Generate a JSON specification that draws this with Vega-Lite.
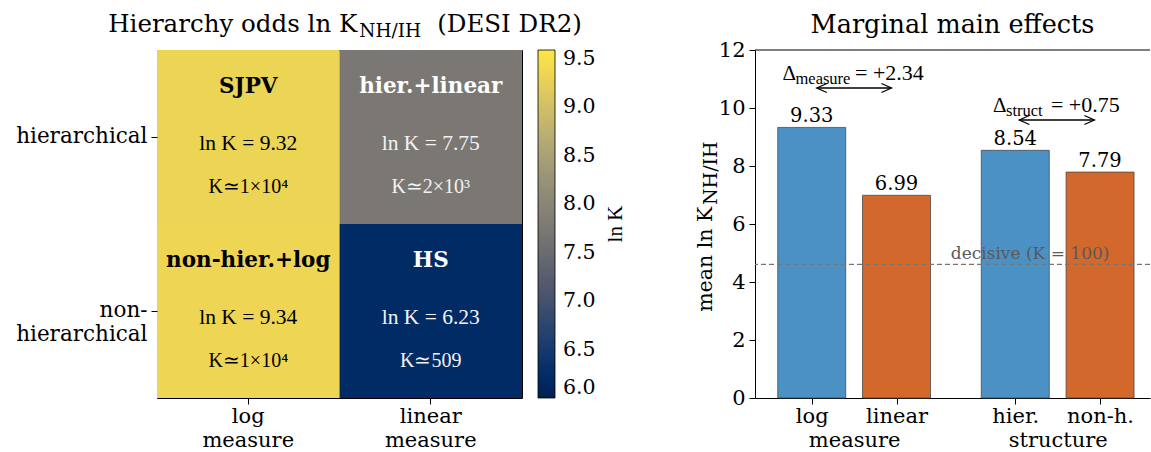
{
  "$schema": "https://vega.github.io/schema/vega-lite/v6.json",
  "background": "white",
  "padding": {"left": 15, "top": 11, "right": 0, "bottom": 0},
  "bounds": "flush",
  "spacing": 233,
  "config": {
    "font": "DejaVu Serif",
    "view": {"stroke": null},
    "axis": {"labelFont": "DejaVu Serif", "titleFont": "DejaVu Serif", "labelColor": "black", "tickColor": "black", "domainColor": "black", "grid": false},
    "legend": {"labelFont": "DejaVu Serif", "titleFont": "Liberation Serif", "labelColor": "black", "titleColor": "black"},
    "title": {"font": "DejaVu Serif", "fontWeight": "normal", "color": "black"},
    "text": {"color": "black"}
  },
  "datasets": {
    "cells": [
      {"structure": "hierarchical", "measure": "log", "lnK": 9.32, "name": "SJPV", "lnK_text": "ln K = 9.32", "K_text": "K≃1×10⁴"},
      {"structure": "hierarchical", "measure": "linear", "lnK": 7.75, "name": "hier.+linear", "lnK_text": "ln K = 7.75", "K_text": "K≃2×10³"},
      {"structure": "non-hierarchical", "measure": "log", "lnK": 9.34, "name": "non-hier.+log", "lnK_text": "ln K = 9.34", "K_text": "K≃1×10⁴"},
      {"structure": "non-hierarchical", "measure": "linear", "lnK": 6.23, "name": "HS", "lnK_text": "ln K = 6.23", "K_text": "K≃509"}
    ],
    "bars": [
      {"label": "log", "group": "measure", "slot": "first", "pos": 0, "mean_lnK": 9.33},
      {"label": "linear", "group": "measure", "slot": "second", "pos": 1, "mean_lnK": 6.99},
      {"label": "hier.", "group": "structure", "slot": "first", "pos": 2.4, "mean_lnK": 8.54},
      {"label": "non-h.", "group": "structure", "slot": "second", "pos": 3.4, "mean_lnK": 7.79}
    ],
    "annot": [
      {"factor": "measure", "sub": "measure", "val": "= +2.34", "xl": -0.345, "xr": 1.322, "ty": 10.966, "ax1": 0.06, "ax2": 0.94, "ay": 10.69},
      {"factor": "structure", "sub": "struct", "val": "= +0.75", "xl": 2.138, "xr": 3.632, "ty": 9.862, "ax1": 2.448, "ax2": 3.333, "ay": 9.586}
    ]
  },
  "hconcat": [
    {
      "width": 365,
      "height": 348,
      "view": {"stroke": "black", "strokeWidth": 1},
      "data": {"name": "cells"},
      "encoding": {
        "x": {"field": "measure", "type": "nominal", "sort": ["log", "linear"], "scale": {"paddingInner": 0, "paddingOuter": 0},
          "axis": {"title": null, "labelAngle": 0, "labelExpr": "[datum.label, 'measure']", "labelFontSize": 21, "labelLineHeight": 24.5, "tickSize": 6, "labelPadding": 1, "domain": false, "labelBaseline": "top"}},
        "y": {"field": "structure", "type": "nominal", "sort": ["hierarchical", "non-hierarchical"], "scale": {"paddingInner": 0, "paddingOuter": 0},
          "axis": {"title": null, "labelExpr": "datum.label == 'hierarchical' ? 'hierarchical' : ['non-', 'hierarchical']", "labelFontSize": 21.5, "labelLineHeight": 24, "tickSize": 6, "labelPadding": 4, "domain": false, "labelAlign": "right", "labelBaseline": "middle"}}
      },
      "layer": [
        {
          "mark": {"type": "rect"},
          "encoding": {
            "color": {"field": "lnK", "type": "quantitative",
              "scale": {"scheme": "cividis", "domain": [6.0, 9.59]},
              "legend": {"title": null, "orient": "right", "offset": 16, "padding": 0, "gradientLength": 348, "gradientThickness": 17,
                "gradientStrokeColor": "black", "gradientStrokeWidth": 0.8, "values": [6, 6.5, 7, 7.5, 8, 8.5, 9, 9.5], "format": ".1f",
                "labelFontSize": 20.5, "labelOffset": 8, "labelBaseline": "middle", "labelOverlap": false}}
          }
        },
        {
          "mark": {"type": "text", "fontWeight": "bold", "fontSize": 21.5, "dy": -50, "baseline": "middle"},
          "encoding": {"text": {"field": "name"}, "color": {"condition": {"test": "datum.lnK > 8.5", "value": "black"}, "value": "white"}}
        },
        {
          "mark": {"type": "text", "font": "Liberation Serif", "fontSize": 21.5, "dy": 7, "baseline": "middle"},
          "encoding": {"text": {"field": "lnK_text"}, "color": {"condition": {"test": "datum.lnK > 8.5", "value": "black"}, "value": "#f2f2f2"}}
        },
        {
          "mark": {"type": "text", "font": "Liberation Serif", "fontSize": 20, "dy": 50, "baseline": "middle"},
          "encoding": {"text": {"field": "K_text"}, "color": {"condition": {"test": "datum.lnK > 8.5", "value": "black"}, "value": "#f2f2f2"}}
        },
        {
          "data": {"values": [{"piece": "Hierarchy odds ln K"}]},
          "mark": {"type": "text", "fontSize": 24.5, "align": "right", "baseline": "alphabetic", "dx": 109, "dy": -105},
          "encoding": {"x": {"datum": "log"}, "y": {"datum": "hierarchical"}, "text": {"field": "piece"}}
        },
        {
          "data": {"values": [{"piece": "NH/IH"}]},
          "mark": {"type": "text", "fontSize": 18.5, "align": "left", "baseline": "alphabetic", "dx": 111, "dy": -100},
          "encoding": {"x": {"datum": "log"}, "y": {"datum": "hierarchical"}, "text": {"field": "piece"}}
        },
        {
          "data": {"values": [{"piece": "(DESI DR2)"}]},
          "mark": {"type": "text", "fontSize": 24.5, "align": "left", "baseline": "alphabetic", "dx": 189, "dy": -105},
          "encoding": {"x": {"datum": "log"}, "y": {"datum": "hierarchical"}, "text": {"field": "piece"}}
        },
        {
          "data": {"values": [{"piece": "ln K"}]},
          "mark": {"type": "text", "font": "Liberation Serif", "fontSize": 21, "angle": 270, "align": "center", "baseline": "middle", "dx": -87, "dy": 185},
          "encoding": {"x": {"datum": "linear"}, "y": {"datum": "hierarchical"}, "text": {"field": "piece"}}
        }
      ]
    },
    {
      "width": 395,
      "height": 348,
      "title": {"text": "Marginal main effects", "fontSize": 25.5, "offset": 1},
      "layer": [
        {
          "data": {"name": "bars"},
          "mark": {"type": "bar", "size": 68, "stroke": "#444444", "strokeOpacity": 0.75, "strokeWidth": 1},
          "encoding": {
            "x": {"field": "pos", "type": "quantitative", "scale": {"domain": [-0.61, 3.93], "nice": false, "zero": false},
              "axis": {"title": null, "values": [0, 0.5, 1, 2.4, 2.9, 3.4],
                "labelExpr": "datum.value == 0 ? 'log' : datum.value == 1 ? 'linear' : datum.value == 2.4 ? 'hier.' : datum.value == 3.4 ? 'non-h.' : datum.value == 0.5 ? ['', 'measure'] : ['', 'structure']",
                "labelFontSize": 21, "labelLineHeight": 24.5, "labelAngle": 0, "tickSize": 6, "labelPadding": 1, "labelBaseline": "top",
                "tickOpacity": {"condition": {"test": "datum.value == 0.5 || datum.value == 2.9", "value": 0}, "value": 1},
                "labelOverlap": false, "labelBound": false, "labelFlush": false}},
            "y": {"field": "mean_lnK", "type": "quantitative", "scale": {"domain": [0, 12], "nice": false},
              "axis": {"title": null, "values": [0, 2, 4, 6, 8, 10, 12], "format": "d", "labelFontSize": 21, "tickSize": 6, "labelPadding": 4}},
            "color": {"field": "slot", "type": "nominal", "scale": {"domain": ["first", "second"], "range": ["#4B91C3", "#D2682B"]}, "legend": null}
          }
        },
        {
          "data": {"name": "bars"},
          "mark": {"type": "text", "fontSize": 19.5, "baseline": "alphabetic", "dy": -5},
          "encoding": {"x": {"field": "pos", "type": "quantitative"}, "y": {"field": "mean_lnK", "type": "quantitative"}, "text": {"field": "mean_lnK", "format": ".2f"}}
        },
        {
          "data": {"values": [{"threshold": 4.605}]},
          "mark": {"type": "rule", "color": "#777777", "strokeWidth": 1.2, "strokeDash": [5, 3]},
          "encoding": {"y": {"field": "threshold", "type": "quantitative"}}
        },
        {
          "data": {"values": [{"threshold": 4.605, "xpos": 2.575, "note": "decisive (K = 100)"}]},
          "mark": {"type": "text", "fontSize": 17, "color": "#5a5a5a", "baseline": "alphabetic", "dy": -5},
          "encoding": {"x": {"field": "xpos", "type": "quantitative"}, "y": {"field": "threshold", "type": "quantitative"}, "text": {"field": "note"}}
        },
        {
          "data": {"values": [{"top": 12}]},
          "mark": {"type": "rule", "color": "black", "strokeWidth": 1},
          "encoding": {"y": {"field": "top", "type": "quantitative"}}
        },
        {
          "data": {"name": "annot"},
          "mark": {"type": "rule", "color": "black", "strokeWidth": 1.3},
          "encoding": {"x": {"field": "ax1", "type": "quantitative"}, "x2": {"field": "ax2"}, "y": {"field": "ay", "type": "quantitative"}}
        },
        {
          "data": {"name": "annot"},
          "mark": {"type": "point", "shape": "M1,-0.45L0,0L1,0.45", "size": 400, "filled": false, "stroke": "black", "strokeWidth": 1.3, "opacity": 1},
          "encoding": {"x": {"field": "ax1", "type": "quantitative"}, "y": {"field": "ay", "type": "quantitative"}}
        },
        {
          "data": {"name": "annot"},
          "mark": {"type": "point", "shape": "M-1,-0.45L0,0L-1,0.45", "size": 400, "filled": false, "stroke": "black", "strokeWidth": 1.3, "opacity": 1},
          "encoding": {"x": {"field": "ax2", "type": "quantitative"}, "y": {"field": "ay", "type": "quantitative"}}
        },
        {
          "data": {"name": "annot"},
          "mark": {"type": "text", "font": "Liberation Serif", "fontSize": 21, "align": "left", "baseline": "alphabetic"},
          "encoding": {"x": {"field": "xl", "type": "quantitative"}, "y": {"field": "ty", "type": "quantitative"}, "text": {"value": "Δ"}}
        },
        {
          "data": {"name": "annot"},
          "mark": {"type": "text", "font": "Liberation Serif", "fontSize": 16.5, "align": "left", "baseline": "alphabetic", "dx": 13, "dy": 4},
          "encoding": {"x": {"field": "xl", "type": "quantitative"}, "y": {"field": "ty", "type": "quantitative"}, "text": {"field": "sub"}}
        },
        {
          "data": {"name": "annot"},
          "mark": {"type": "text", "font": "Liberation Serif", "fontSize": 22, "align": "right", "baseline": "alphabetic"},
          "encoding": {"x": {"field": "xr", "type": "quantitative"}, "y": {"field": "ty", "type": "quantitative"}, "text": {"field": "val"}}
        },
        {
          "data": {"values": [{"edge": -0.61, "ypos": 2.97, "piece": "mean ln K"}]},
          "mark": {"type": "text", "fontSize": 20.5, "angle": 270, "align": "left", "baseline": "alphabetic", "dy": -48},
          "encoding": {"x": {"field": "edge", "type": "quantitative"}, "y": {"field": "ypos", "type": "quantitative"}, "text": {"field": "piece"}}
        },
        {
          "data": {"values": [{"edge": -0.61, "ypos": 6.655, "piece": "NH/IH"}]},
          "mark": {"type": "text", "fontSize": 19, "angle": 270, "align": "left", "baseline": "alphabetic", "dy": -43},
          "encoding": {"x": {"field": "edge", "type": "quantitative"}, "y": {"field": "ypos", "type": "quantitative"}, "text": {"field": "piece"}}
        }
      ]
    }
  ]
}
